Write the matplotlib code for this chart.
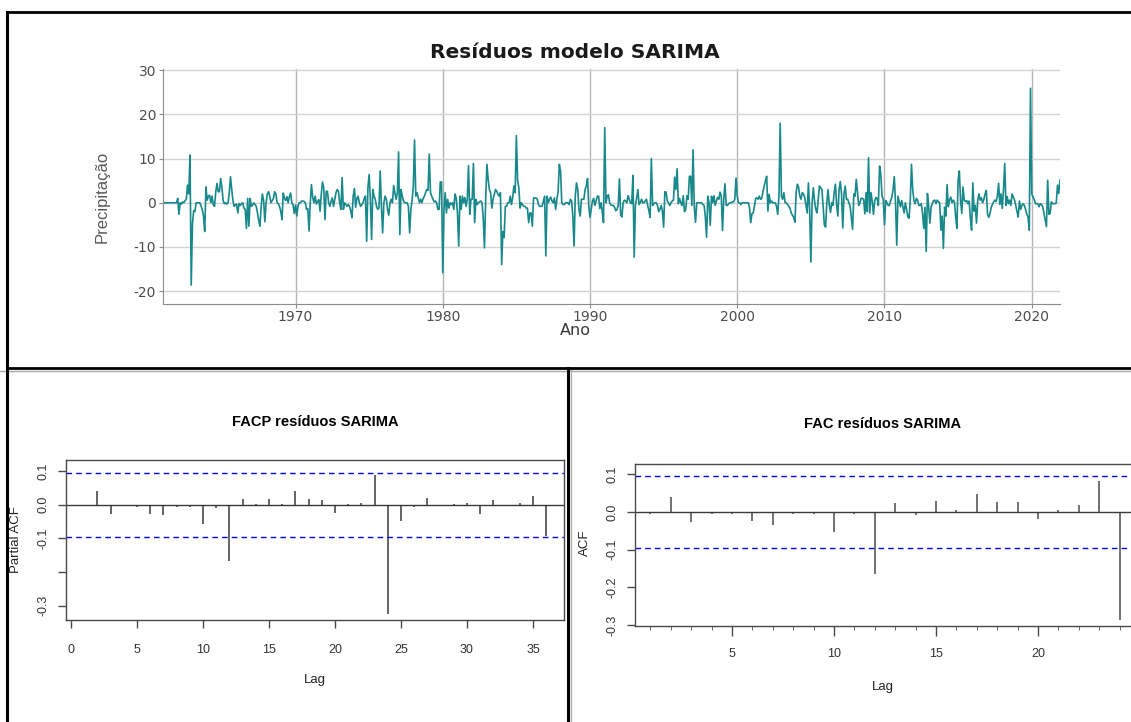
import numpy as np
import matplotlib
matplotlib.use("Agg")
import matplotlib.pyplot as plt
from matplotlib.lines import Line2D
from matplotlib.ticker import MultipleLocator

plt.rcParams["axes.unicode_minus"] = False

# ==========================================
# DATA
# ==========================================
# Monthly SARIMA residuals, Jan 1961 - Dec 2021 (one row per year)
START_YEAR = 1961
resid = [
    0, 0, 0, 0, 0, 0, 0, 0, 0, 0, 0, 0,
    1, -2.6, 0, -0.3, 0.2, 0, 0.5, 0.8, 4, 2, 10.8, -18.6,
    -4.7, -1.8, -2, 0, 0, 0, 0, -0.7, -1.5, -3, -6.5, 3.6,
    0.6, 1.5, 1.7, 0, 1.5, -0.5, -0.8, 2.5, 4.4, 2.5, 2.5, 5.5,
    3.5, 0.5, -0.2, 0, -0.3, 0, 2.2, 5.9, 3, 0.5, -0.8, -0.5,
    -0.3, -2.3, -0.2, -0.6, -0.2, 0, -1.2, -1.5, -5.8, 1, -5.3, 1,
    -0.8, -0.5, 0, -0.4, -0.8, -2.3, -4, -5.3, -0.8, 2, 0.5, -4.3,
    0, 2, 2.5, 1.5, 0, 0.5, 1, 2.5, 2, 0, -0.2, -0.8,
    -2, -3.8, 2.2, 1, 0.5, 1.4, 0, 1.4, 2.2, 0, -0.5, -2.4,
    -0.5, -3, -0.8, 0, 0, 0.4, 0.4, 0.3, 0, -1.5, -1.3, -6.4,
    0, 4.1, 1.2, 0, 1.5, -0.3, 0.3, 0.7, -1.9, 2, 4.7, 3.4,
    -3.8, 2.6, 2.6, 0, -0.8, 0.4, 1.1, -0.8, 0.7, 2.3, 3, 2.6,
    0, -1.5, 5.7, -1.5, 0, -0.4, -0.8, -0.4, -0.8, -1.8, -3.4, 1.5,
    3.2, -1, 1, 1.5, 0, -0.8, -0.4, 0, 1, 1.5, -8.7, 3.4,
    6.4, 0.8, -8.3, 3, 1.5, 0.8, -0.8, -1.5, -1.2, 7.2, -0.8, -6.8,
    0, 1.5, 0.8, -1.5, -2.8, 0, 0.8, 0, 3.9, 2.2, 0.8, 2.2,
    11.5, -7.2, 3, 1.5, 0.4, 0, 0, 0, -0.8, -6.8, -1.5, 0.5,
    3.8, 14.2, 1.5, 2.3, 1.2, 0, 0.8, 0, 1, 1.5, 2.3, 3,
    2.8, 11, 2.3, 1.5, 0.8, 0.2, 0.4, 0, -1.5, -1.5, 4.7, 4.7,
    -15.8, -1.5, 2.3, -2.3, 0.8, -1.2, 0, -0.4, 0, -1.5, 2, 1,
    -2.3, -9.8, 1.5, -1.5, 1.5, 0, 1.2, -0.8, 0.8, 8.4, -2.6, 0.8,
    0.8, 8.9, -4.5, 0.8, -0.4, 0, 0.2, 0.4, 0, -3.5, -10.2, 1,
    8.7, 5.3, 3, 2.3, -1.2, 0.8, 1.9, 3, 2.6, 1.9, 1.5, 2.3,
    -14, -6.5, -7.9, -0.8, -0.8, 0, 0, 1.5, -0.4, 1.2, 3.8, 2.3,
    15.2, 5, 3.4, -1.2, 0, -0.4, -0.8, -0.8, -1.2, -1.2, -4.5, -2.3,
    -2.3, -5.3, 1.1, 1.1, 1.1, 0.8, -0.4, -0.8, -0.8, -0.8, 0.4, 1.5,
    -12, 1.5, 0, 0.8, 1.3, 0.4, 0, 1.1, -1.5, 0.8, 2.5, 8.7,
    7.2, 0, -0.4, -0.4, 0, 0, 0, -0.4, 0.8, 0.4, -3, -9.8,
    1.5, 4.5, 3, -1.5, -3, 0.8, 0.8, 0.8, 3, 3.8, 5.5, -0.8,
    -3.3, -1.5, 0.4, 1, -0.6, 0.5, 1.5, 1.5, -1.3, 0, -2, -4.5,
    17, 0, 1.5, 1.8, 0, -0.5, -0.6, -0.6, -1, -1.8, -1.5, -0.6,
    5.4, -2.8, -3.2, 0, 0.6, 0.4, 0, 1.6, 0.8, 0, -0.2, 6.2,
    -12.3, -0.6, 1, 3, -0.4, 0, 0.8, 0, 0, 0.4, 0.8, -0.6,
    -1.8, -3.3, 10, -0.6, -0.2, 0, 0, -0.6, -2, -1.5, -0.6, -1.8,
    -5.5, 2.5, 2.4, 0.4, 0, -0.6, 0, 0.4, 0.6, 5.8, 3, 7.7,
    -0.2, 1, 0, -0.6, 1.6, -2, -1.5, 1.6, 0.8, 6, 6, -0.6,
    12, -1, -4.4, 0, 0, 0, 0, 0, -0.4, -0.6, -3.2, -7.8,
    1.5, 0, -5.1, 1.5, 0, 1.6, -0.6, 0.4, 1.2, 0.8, 2.4, 1.5,
    -6.3, 1, 4.3, -0.6, -0.6, -0.2, 0, 0, 0.2, 0.2, 0.8, 5.6,
    1.5, 0, 0, -0.4, 0, 0, 0, 0, 0, 0, -1.1, -4.5,
    -2.5, -2.3, -0.8, 1, 1.1, 0.8, 1.5, 0.8, 1, 2.6, 3.8, 5,
    6, -1.9, 1.9, 0, 0.4, 0, 0, 0, -0.8, -2.6, 1.5, 18,
    1.5, 0.8, 2.3, 0, 0, -0.4, -0.8, -1.2, -2.3, -2.8, -3.3, -4.4,
    2.3, 4.2, 3.5, 1.5, 0.8, 2.3, 2, 1.2, -0.5, -2.3, 4.5, -1.5,
    -13.4, 0, 3.4, 0.4, -1.5, -2.3, 0.8, 3.8, 3.4, 3, -0.8, -5,
    -5.5, 0, 3, -0.5, -2.2, 0, -0.6, 2.3, 4.2, -0.5, -3, 3,
    4.8, 2, -5.7, 2, 3.8, 0.8, 0.8, 0, -0.8, -3.5, -6, 2,
    1.5, 5.3, 2.3, -0.6, 0, 1, 1, 0.8, -2.5, 2.3, -2, 10.2,
    -2.3, 2.3, 0.4, -2.6, 0.4, 1.2, 1, -0.6, 8.3, 6.4, 1.5, 0.8,
    -5, 0.5, 0, -0.6, -0.6, 0.5, 1.2, 3, 5.9, -0.2, -9.6, 1.5,
    0.3, -0.9, 0.5, -0.9, -2.3, 0, -1.5, -3.2, -3.5, 0.5, 8.7, 3,
    0.5, -0.2, 1, 0.6, -0.6, -0.6, -0.2, -2.4, -5.8, -1, -11, 2.1,
    -0.9, -4.6, -0.9, -0.2, 0.5, 0.6, -0.2, 0.6, 0.2, 0, -6.2, -3,
    -10.3, -1, -3, 4.1, -0.9, 0.6, 1.3, 0, 0.6, 0.2, -3, -5.8,
    5, 7.2, 0.5, -2.4, 3.6, 0.5, 0.3, 0.5, -0.2, 0.4, -3.5, -6.2,
    4.5, -1.9, -0.6, -4.6, 0.5, 2, 0.6, 1.1, 0, 0.8, 2, 2.8,
    -2.6, -3.3, -2.4, -1, -0.3, 0.2, 0.6, 0.3, 1.5, 4.4, -0.4, 2,
    -1.3, 3, 8.9, -0.6, 1.4, -0.2, 0.6, -0.6, 2, 1.3, 0.6, -0.6,
    -2, -3.2, 0.4, -1.5, -0.6, -0.2, -0.6, -1.5, -2.6, -3.2, -6.2, 25.9,
    2.1, 1.3, 0.8, -0.2, -0.2, -0.2, -0.9, -0.2, -0.4, -0.9, -2.4, -3.8,
    -5.4, 5.1, -2.6, -2.4, 0.2, -0.2, -0.2, -0.2, 0, 4, 2.1, 5.1,
]

# Partial autocorrelation of residuals, lags 1..36
pacf_lags = list(range(1, 37))
pacf_vals = [
    -0.003, 0.040, -0.028, -0.004, -0.008, -0.028, -0.032, -0.006, -0.006,
    -0.057, -0.010, -0.166, 0.018, 0.002, 0.018, 0.003, 0.040, 0.017,
    0.015, -0.024, 0.002, 0.004, 0.087, -0.326, -0.048, -0.008, 0.020,
    -0.002, 0.002, 0.005, -0.028, 0.015, -0.004, 0.006, 0.025, -0.093,
]

# Autocorrelation of residuals, lags 1..24
acf_lags = list(range(1, 25))
acf_vals = [
    -0.006, 0.040, -0.027, -0.006, -0.006, -0.025, -0.034, -0.006,
    -0.006, -0.053, -0.006, -0.165, 0.024, -0.007, 0.029, 0.006,
    0.048, 0.026, 0.026, -0.019, 0.006, 0.019, 0.083, -0.287,
]
CI = 0.0958

# ==========================================
# FIGURE
# ==========================================
W, H = 1131, 722
fig = plt.figure(figsize=(W / 100, H / 100), dpi=100)


def px_axes(left, top, right, bottom):
    return fig.add_axes([left / W, 1 - bottom / H, (right - left) / W, (bottom - top) / H])


def fig_text(x, y, s, **kw):
    fig.text(x / W, 1 - y / H, s, ha="center", va="center", **kw)


def fig_line(xs, ys, **kw):
    fig.add_artist(Line2D([x / W for x in xs], [1 - y / H for y in ys],
                          transform=fig.transFigure, **kw))


# --- Residual series ---
ax = px_axes(163, 69.3, 1060, 304)
years = START_YEAR + np.arange(len(resid)) / 12
ax.plot(years, resid, color="#17898b", lw=1.2)
ax.set_xlim(1961, 2021.92)
ax.set_ylim(-22.9, 30.2)
ax.set_xticks([1970, 1980, 1990, 2000, 2010, 2020])
ax.set_yticks([-20, -10, 0, 10, 20, 30])
ax.yaxis.grid(True, color="#d2d2d2", lw=1)
ax.xaxis.grid(True, color="#b4b4b4", lw=1)
ax.set_axisbelow(True)
for s in ["top", "right"]:
    ax.spines[s].set_visible(False)
for s in ["left", "bottom"]:
    ax.spines[s].set_color("#8c8c8c")
ax.tick_params(length=3, color="#8c8c8c", labelcolor="#4d4d4d",
               labelsize=10, pad=2)
ax.tick_params(axis="x", pad=1)

fig_text(575, 53, "Resíduos modelo SARIMA", fontsize=14.5, fontweight="bold",
         color="#1a1a1a")
fig_text(575, 331, "Ano", fontsize=11.5, color="#3a3a3a")
fig_text(102, 197, "Precipitação", fontsize=12, rotation=90, color="#595959",
         family="Liberation Sans")


def r_style(a):
    for s in a.spines.values():
        s.set_color("#4a4a4a")
        s.set_linewidth(1)
    a.tick_params(which="major", length=6, width=1, color="#4a4a4a",
                  labelcolor="#333333", labelsize=9)
    for lab in a.get_xticklabels() + a.get_yticklabels():
        lab.set_family("Liberation Sans")


# --- PACF ---
ax1 = px_axes(66, 460, 564, 620)
ax1.vlines(pacf_lags, 0, pacf_vals, color="#3a3a3a", lw=1.1)
ax1.axhline(0, color="#3a3a3a", lw=1)
for c in (CI, -CI):
    ax1.axhline(c, color="#0000ff", lw=1, ls=(0, (4, 3)))
ax1.set_xlim(-0.38, 37.35)
ax1.set_ylim(-0.343, 0.133)
ax1.set_xticks(range(0, 36, 5))
ax1.set_yticks([0.1, 0.0, -0.1, -0.2, -0.3])
ax1.set_yticklabels(["0.1", "0.0", "-0.1", "", "-0.3"], rotation=90, va="center")
r_style(ax1)
ax1.tick_params(axis="x", pad=11)
ax1.tick_params(axis="y", pad=6)
fig_text(315, 422, "FACP resíduos SARIMA", fontsize=10.5, fontweight="bold",
         family="Liberation Sans")
fig_text(315, 680, "Lag", fontsize=9.5, family="Liberation Sans", color="#222222")
fig_text(16, 540, "Partial ACF", fontsize=9.5, rotation=90,
         family="Liberation Sans", color="#222222")

# --- ACF (panel runs past the right edge) ---
acf_right = 0.245 + (W - 635 + 250) / 20.4
ax2 = px_axes(635, 464, 635 + (acf_right - 0.245) * 20.4, 626)
ax2.vlines(acf_lags, 0, acf_vals, color="#4a4a4a", lw=1.1)
ax2.axhline(0, color="#3a3a3a", lw=1)
for c in (CI, -CI):
    ax2.axhline(c, color="#0000ff", lw=1, ls=(0, (4, 3)))
ax2.set_xlim(0.245, acf_right)
ax2.set_ylim(-0.3024, 0.1273)
ax2.set_xticks([5, 10, 15, 20])
ax2.xaxis.set_minor_locator(MultipleLocator(1))
ax2.set_yticks([0.1, 0.0, -0.1, -0.2, -0.3])
ax2.set_yticklabels(["0.1", "0.0", "-0.1", "-0.2", "-0.3"], rotation=90, va="center")
r_style(ax2)
ax2.tick_params(axis="x", which="major", length=7, pad=9)
ax2.tick_params(axis="x", which="minor", length=3, color="#4a4a4a")
ax2.tick_params(axis="y", pad=6)
fig_text(883, 424, "FAC resíduos SARIMA", fontsize=10.5, fontweight="bold",
         family="Liberation Sans")
fig_text(883, 687, "Lag", fontsize=9.5, family="Liberation Sans", color="#222222")
fig_text(585, 543, "ACF", fontsize=9.5, rotation=90,
         family="Liberation Sans", color="#222222")

# --- panel borders ---
fig_line([0, W], [370.5, 370.5], color="#a8a8a8", lw=1)
fig_line([571, 571], [370, H], color="#b0b0b0", lw=1)
fig_line([7, W], [12, 12], color="black", lw=2)
fig_line([7, 7], [12, H], color="black", lw=2.2)
fig_line([7, W], [368, 368], color="black", lw=2)
fig_line([568, 568], [368, H], color="black", lw=2.2)

fig.savefig("out.png", dpi=100)
